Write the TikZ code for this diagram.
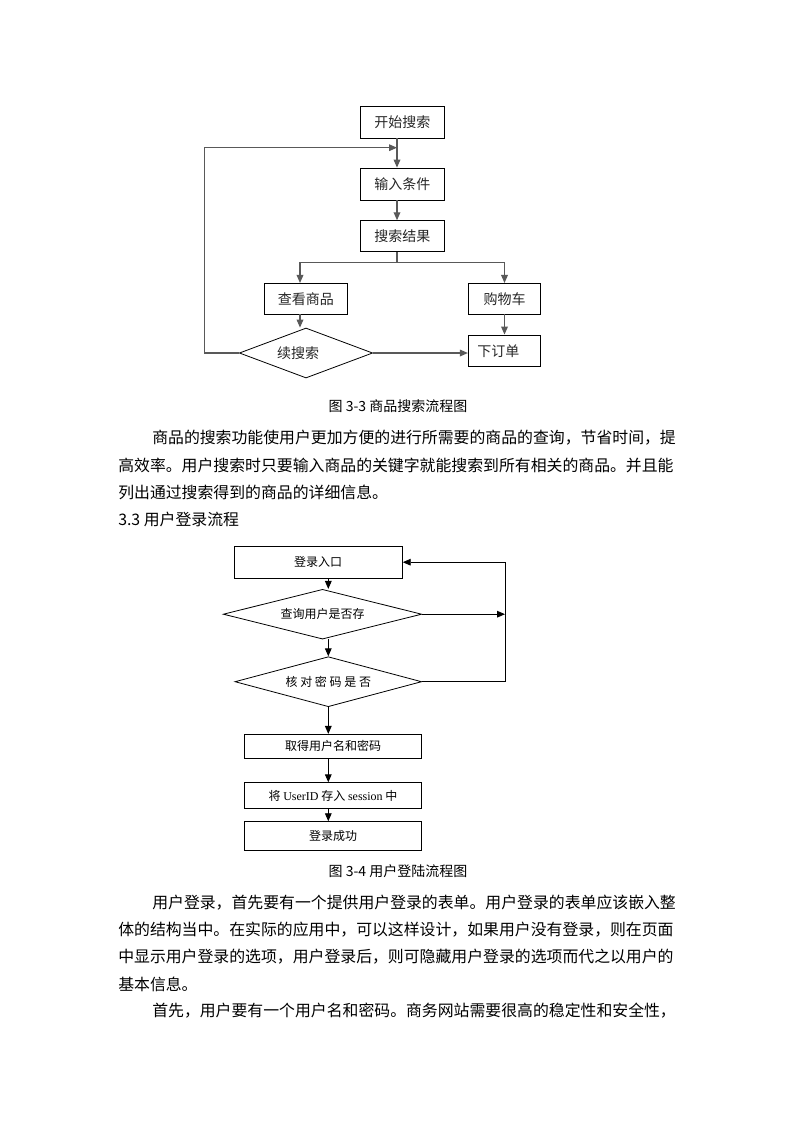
\documentclass[tikz,border=0pt]{standalone}
\usepackage{fontspec}
\setmainfont{Noto Sans CJK SC}
\newfontfamily\latinserif{Liberation Serif}
\usetikzlibrary{arrows.meta,shapes.geometric}

\tikzset{
  box/.style={draw, line width=0.6pt, inner sep=0pt, font=\fontsize{10.5}{12}\selectfont, text=black!85},
  choice/.style={diamond, aspect=2.7, draw, line width=0.6pt, inner sep=0pt, font=\fontsize{10.5}{12}\selectfont, text=black!85},
  flow/.style={line width=0.9pt, black!65, -{Triangle[length=6pt,width=5pt]}},
  link/.style={line width=0.9pt, black!65},
  smallbox/.style={draw, line width=0.6pt, inner sep=0pt, font=\fontsize{9}{11}\selectfont},
  smallchoice/.style={diamond, aspect=4, draw, line width=0.6pt, inner sep=0pt, font=\fontsize{9}{11}\selectfont},
  arrow/.style={line width=0.7pt, -{Triangle[length=6pt,width=5pt]}},
  bodyline/.style={anchor=west, inner sep=0pt, font=\fontsize{11.9}{14}\selectfont},
  caption/.style={inner sep=0pt, font=\fontsize{10.5}{12}\selectfont}
}

\begin{document}
\begin{tikzpicture}[x=0.75pt, y=-0.75pt]

\fill[white] (0,0) rectangle (793,1122);
\useasboundingbox (0,0) rectangle (793,1122);

% -------- search flow -----------
\node [box, minimum width=62.5pt, minimum height=24pt]   (start)  at (402.3,122)   {开始搜索};
\node [box, minimum width=62.5pt, minimum height=24pt]   (input)  at (402.3,184)   {输入条件};
\node [box, minimum width=62.5pt, minimum height=23.3pt] (result) at (402.3,236.2) {搜索结果};
\node [box, minimum width=62.8pt, minimum height=23pt]   (view)   at (305.8,298.7) {查看商品};
\node [box, minimum width=54.3pt, minimum height=23pt]   (cart)   at (504.5,298.7) {购物车};
\node [box, minimum height=23.8pt, text width=40.8pt, inner xsep=6.75pt, align=left] (order) at (504.5,350.8) {下订单};
\node [choice, minimum width=100pt, minimum height=37.5pt] (cont) at (306,353) {\kern-12pt 续搜索};

\coordinate (spine)    at (397,0);
\coordinate (split)    at (397,262.3);
\coordinate (leftx)    at (300,0);
\coordinate (loopturn) at (204.3,147.7);
\coordinate (loopend)  at (397,147.7);

\draw [flow] (start.south -| spine) -- (input.north -| spine);
\draw [flow] (input.south -| spine) -- (result.north -| spine);
\draw [link] (result.south -| spine) -- (split);
\draw [flow] (split) -| (view.north -| leftx);
\draw [flow] (split) -| (cart.north);
\draw [flow] (view.south -| leftx) -- (cont.north -| leftx);
\draw [flow] (cart.south) -- (order.north);
\draw [flow] (cont.east) -- (cont.east -| order.west);
\draw [flow] (cont.west) -| (loopturn) -- (loopend);

\node [caption] (cap1) at (398,406) {图 3-3 商品搜索流程图};

% -------- text -----------
\node [bodyline] (p1a) at (152,438) {商品的搜索功能使用户更加方便的进行所需要的商品的查询，节省时间，提};
\node [bodyline] (p1b) at (118,465) {高效率。用户搜索时只要输入商品的关键字就能搜索到所有相关的商品。并且能};
\node [bodyline] (p1c) at (118,492) {列出通过搜索得到的商品的详细信息。};
\node [bodyline] (sec) at (118,519) {3.3 用户登录流程};

% -------- login flow -----------
\node [smallbox, minimum width=126.2pt, minimum height=24.2pt] (entry) at (318.2,562.2) {登录入口};
\node [smallchoice, minimum width=148.8pt, minimum height=37.3pt] (user) at (322.5,614.2) {查询用户是否存};
\node [smallchoice, minimum width=140pt, minimum height=37.5pt] (pass) at (328.3,681.7) {核 对 密 码 是 否};
\node [smallbox, minimum width=133pt, minimum height=18pt]   (fetch)  at (333,746.3) {取得用户名和密码};
\node [smallbox, minimum width=133pt, minimum height=19.2pt] (store)  at (333,795.5) {将 {\latinserif UserID} 存入 {\latinserif session} 中};
\node [smallbox, minimum width=133pt, minimum height=21.2pt] (done)   at (333,835.8) {登录成功};

\coordinate (spine2) at (328.3,0);
\coordinate (rightx) at (505,0);

\draw [arrow] (entry.south -| spine2) -- (user.north -| spine2);
\draw [arrow] (user.south -| spine2) -- (pass.north -| spine2);
\draw [arrow] (pass.south -| spine2) -- (fetch.north -| spine2);
\draw [arrow] (fetch.south -| spine2) -- (store.north -| spine2);
\draw [arrow] (store.south -| spine2) -- (done.north -| spine2);
\draw [arrow] (user.east) -- (user.east -| rightx);
\draw [arrow] (pass.east) -| (entry.east -| rightx) -- (entry.east);

\node [caption] (cap2) at (398,871) {图 3-4 用户登陆流程图};

% -------- text -----------
\node [bodyline] (p2a) at (152,903)  {用户登录，首先要有一个提供用户登录的表单。用户登录的表单应该嵌入整};
\node [bodyline] (p2b) at (118,930)  {体的结构当中。在实际的应用中，可以这样设计，如果用户没有登录，则在页面};
\node [bodyline] (p2c) at (118,957)  {中显示用户登录的选项，用户登录后，则可隐藏用户登录的选项而代之以用户的};
\node [bodyline] (p2d) at (118,984)  {基本信息。};
\node [bodyline] (p3a) at (152,1011) {首先，用户要有一个用户名和密码。商务网站需要很高的稳定性和安全性，};

\end{tikzpicture}
\end{document}
